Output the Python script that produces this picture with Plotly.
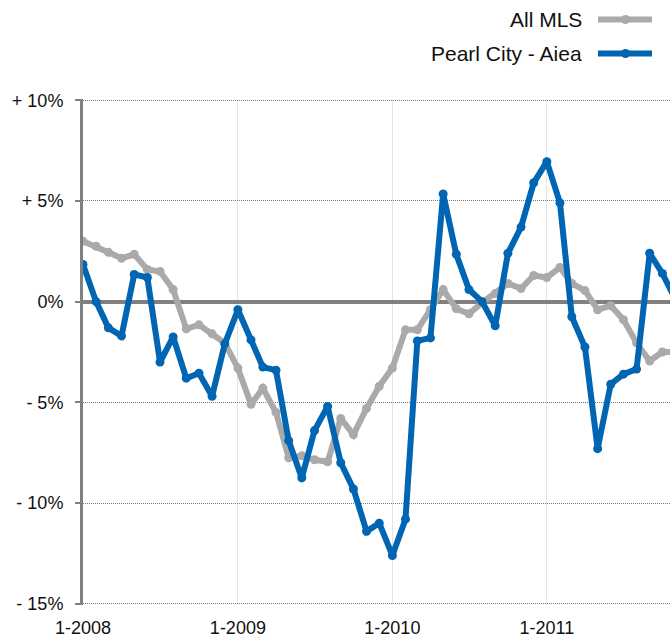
import pandas as pd
import plotly.graph_objects as go

# Monthly change, Jan 2008 onward (percent)
months = pd.date_range("2008-01-01", periods=47, freq="MS")

all_mls = [3.0, 2.75, 2.45, 2.15, 2.35, 1.6, 1.5, 0.6, -1.35, -1.15, -1.6, -2.05,
           -3.3, -5.1, -4.3, -5.5, -7.75, -7.65, -7.85, -7.95, -5.8, -6.6, -5.3, -4.2,
           -3.3, -1.4, -1.4, -0.4, 0.6, -0.35, -0.6, -0.05, 0.4, 0.9, 0.65, 1.3,
           1.2, 1.7, 0.9, 0.55, -0.4, -0.2, -0.9, -2.05, -2.95, -2.5, -2.5]

pearl_city_aiea = [1.85, 0.0, -1.3, -1.7, 1.35, 1.2, -3.0, -1.75, -3.8, -3.55, -4.7, -2.1,
                   -0.4, -1.9, -3.25, -3.4, -6.9, -8.75, -6.4, -5.2, -8.0, -9.3, -11.4, -11.0,
                   -12.6, -10.8, -1.95, -1.8, 5.35, 2.35, 0.6, 0.0, -1.2, 2.4, 3.7, 5.9,
                   6.95, 4.9, -0.75, -2.25, -7.3, -4.1, -3.6, -3.35, 2.4, 1.4, 0.1]

series_names = ["All MLS", "Pearl City - Aiea"]
series_colors = ["#aaaaaa", "#0065b2"]

y_tickvals = [-15, -10, -5, 0, 5, 10]
y_ticktext = ["- 15%", "- 10%", "- 5%", "0%", "+ 5%", "+ 10%"]
x_tickvals = ["2008-01-01", "2009-01-01", "2010-01-01", "2011-01-01"]
x_ticktext = ["1-2008", "1-2009", "1-2010", "1-2011"]

FONT = "Liberation Sans, Arial, Helvetica, sans-serif"

fig = go.Figure()
for name, values, color in zip(series_names, [all_mls, pearl_city_aiea], series_colors):
    fig.add_trace(go.Scatter(
        x=months, y=values, name=name, mode="lines+markers",
        line=dict(color=color, width=6),
        marker=dict(color=color, size=9),
        showlegend=False,
    ))

# Legend drawn to the right of its labels
L, R, T, B = 83, 0, 99, 32
W, H = 670, 637
pw, ph = W - L - R, H - T - B

def px_x(px):
    return (px - L) / pw

def px_y(py):
    return (H - B - py) / ph

legend_rows = [(19.5, series_names[0], series_colors[0]),
               (53.5, series_names[1], series_colors[1])]
for row_y, label, color in legend_rows:
    fig.add_annotation(x=px_x(584), y=px_y(row_y), xref="paper", yref="paper",
                       text=label, showarrow=False, xanchor="right", yanchor="middle",
                       font=dict(family=FONT, size=21, color="#111111"))
    fig.add_shape(type="line", xref="paper", yref="paper",
                  x0=px_x(598), x1=px_x(652), y0=px_y(row_y), y1=px_y(row_y),
                  line=dict(color=color, width=6))
    fig.add_shape(type="circle", xref="paper", yref="paper",
                  xsizemode="pixel", ysizemode="pixel",
                  xanchor=px_x(625.5), yanchor=px_y(row_y),
                  x0=-4.5, x1=4.5, y0=-4.5, y1=4.5,
                  fillcolor=color, line=dict(width=0))

fig.update_layout(
    width=W, height=H,
    margin=dict(l=L, r=R, t=T, b=B, autoexpand=False),
    plot_bgcolor="white", paper_bgcolor="white",
    font=dict(family=FONT, size=18, color="#111111"),
    xaxis=dict(
        type="date", range=["2008-01-01", "2011-10-19"],
        tickvals=x_tickvals, ticktext=x_ticktext,
        showgrid=True, gridcolor="#e4e4e4", gridwidth=1,
        showline=False, zeroline=False, ticks="",
        ticklabelstandoff=10, automargin=False,
    ),
    yaxis=dict(
        range=[-15.06, 10.06], tickvals=y_tickvals, ticktext=y_ticktext,
        showgrid=True, gridcolor="#7a7a7a", gridwidth=1, griddash="1px,1px",
        zeroline=True, zerolinecolor="#808080", zerolinewidth=4,
        showline=True, linecolor="#808080", linewidth=3,
        ticks="outside", ticklen=5, tickwidth=2, tickcolor="#808080",
        ticklabelstandoff=8, automargin=False,
    ),
)

fig.write_html("out.html")
